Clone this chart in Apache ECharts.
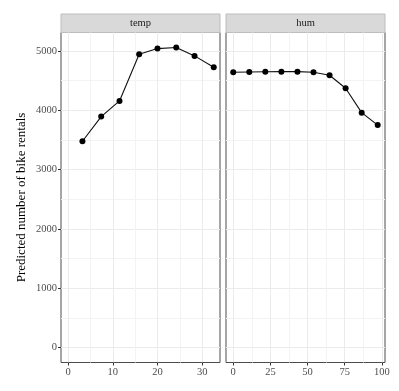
<!DOCTYPE html>
<html>
<head>
<meta charset="utf-8">
<script src="https://cdn.jsdelivr.net/npm/echarts@6/dist/echarts.min.js"></script>
<style>
html,body{margin:0;padding:0;background:#fff;}
#chart{width:399px;height:391px;}
</style>
</head>
<body>
<div id="chart"></div>
<script>
// Data
const tempX = [3.2, 7.4, 11.5, 15.9, 20.0, 24.2, 28.3, 32.6];
const tempY = [3478, 3893, 4157, 4944, 5039, 5056, 4916, 4725];
const humX = [0, 10.8, 21.6, 32.4, 43.2, 54.0, 64.8, 75.6, 86.4, 97.2];
const humY = [4640, 4645, 4648, 4650, 4650, 4640, 4590, 4370, 3960, 3750];
const panelNames = ['temp', 'hum'];
const tempTicks = [0, 10, 20, 30];
const tempMinor = [5, 15, 25];
const humTicks = [0, 25, 50, 75, 100];
const humMinor = [12.5, 37.5, 62.5, 87.5];
const yTicks = [0, 1000, 2000, 3000, 4000, 5000];
const yMinor = [500, 1500, 2500, 3500, 4500];
const yTitle = 'Predicted number of bike rentals';

const FONT = 'Liberation Serif';
const grids = [
  {left: 61, top: 32.5, width: 159, height: 330},
  {left: 226, top: 32.5, width: 159, height: 330}
];
const xRanges = [[-1.6, 34.0], [-4.86, 102.1]];
const yRange = [-250, 5310];
const fmt = v => String(v);

function majorX(gi, ticks) {
  return {
    gridIndex: gi, type: 'value', min: xRanges[gi][0], max: xRanges[gi][1],
    axisLine: {show: false, onZero: false},
    axisTick: {show: true, length: 3, lineStyle: {color: '#333', width: 1}, customValues: ticks},
    axisLabel: {show: true, customValues: ticks, formatter: fmt, color: '#4d4d4d', fontSize: 10.5, fontFamily: FONT, margin: 4},
    splitLine: {show: true, lineStyle: {color: '#ebebeb', width: 1}}
  };
}
function minorX(gi, ticks) {
  return {
    gridIndex: gi, type: 'value', min: xRanges[gi][0], max: xRanges[gi][1],
    axisLine: {show: false, onZero: false},
    axisTick: {show: false, customValues: ticks},
    axisLabel: {show: false, customValues: ticks},
    splitLine: {show: true, lineStyle: {color: '#f3f3f3', width: 1}}
  };
}
function majorY(gi, showLabels) {
  const a = {
    gridIndex: gi, type: 'value', min: yRange[0], max: yRange[1],
    axisLine: {show: false, onZero: false},
    axisTick: {show: showLabels, length: 3, lineStyle: {color: '#333', width: 1}, customValues: yTicks},
    axisLabel: {show: showLabels, customValues: yTicks, formatter: fmt, color: '#4d4d4d', fontSize: 10.5, fontFamily: FONT, margin: 4},
    splitLine: {show: true, lineStyle: {color: '#ebebeb', width: 1}}
  };
  if (showLabels) {
    a.name = yTitle;
    a.nameLocation = 'middle';
    a.nameGap = 33;
    a.nameTextStyle = {color: '#000', fontSize: 13, fontFamily: FONT};
  }
  return a;
}
function minorY(gi) {
  return {
    gridIndex: gi, type: 'value', min: yRange[0], max: yRange[1],
    axisLine: {show: false, onZero: false},
    axisTick: {show: false, customValues: yMinor},
    axisLabel: {show: false, customValues: yMinor},
    splitLine: {show: true, lineStyle: {color: '#f3f3f3', width: 1}}
  };
}

const graphics = [];
grids.forEach((g, i) => {
  graphics.push({
    type: 'rect', x: g.left, y: 14,
    shape: {x: 0, y: 0, width: g.width, height: g.top - 14},
    style: {fill: '#d9d9d9', stroke: '#bdbdbd', lineWidth: 1}
  });
  graphics.push({
    type: 'text', x: g.left + g.width / 2, y: 14 + (g.top - 14) / 2,
    style: {text: panelNames[i], align: 'center', verticalAlign: 'middle',
      fill: '#1a1a1a', fontSize: 10.5, fontFamily: FONT}
  });
});

const option = {
  animation: false,
  backgroundColor: '#fff',
  grid: grids.map(g => Object.assign({show: true, borderColor: '#4d4d4d', borderWidth: 1, backgroundColor: 'transparent', containLabel: false}, g)),
  xAxis: [majorX(0, tempTicks), majorX(1, humTicks), minorX(0, tempMinor), minorX(1, humMinor)],
  yAxis: [majorY(0, true), majorY(1, false), minorY(0), minorY(1)],
  graphic: graphics,
  series: [
    {type: 'line', xAxisIndex: 0, yAxisIndex: 0, data: tempX.map((x, i) => [x, tempY[i]]),
     symbol: 'circle', symbolSize: 6, itemStyle: {color: '#000'}, lineStyle: {color: '#111', width: 1.1}, z: 5},
    {type: 'line', xAxisIndex: 1, yAxisIndex: 1, data: humX.map((x, i) => [x, humY[i]]),
     symbol: 'circle', symbolSize: 6, itemStyle: {color: '#000'}, lineStyle: {color: '#111', width: 1.1}, z: 5}
  ]
};
const chart = echarts.init(document.getElementById('chart'), null, {renderer: 'canvas'});
chart.setOption(option);
</script>
</body>
</html>
